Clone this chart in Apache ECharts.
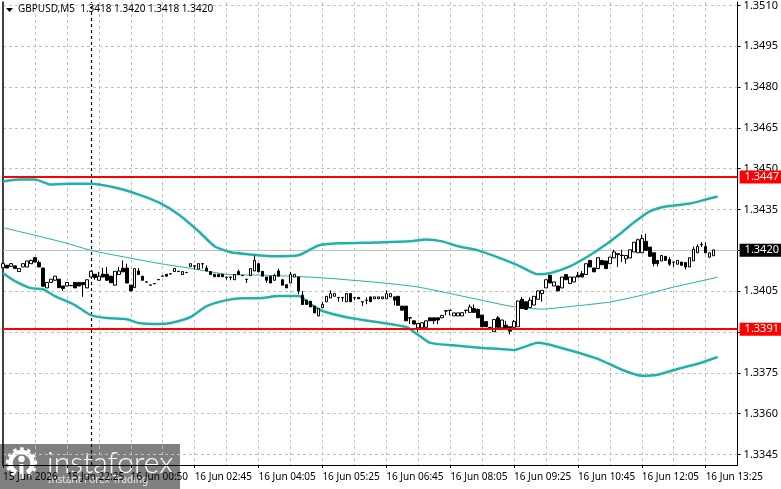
<!DOCTYPE html>
<html>
<head>
<meta charset="utf-8">
<style>html,body{margin:0;padding:0;background:#fff}#chart{width:781px;height:489px}</style>
<script src="https://cdn.jsdelivr.net/npm/echarts@6/dist/echarts.min.js"></script>
</head>
<body>
<div id="chart"></div>
<script>
// GBPUSD M5 candles, one entry per bar
const opens = [1.34136,1.34145,1.34141,1.34143,1.34122,1.34139,1.34139,1.34151,1.34173,1.34155,1.34135,1.34062,1.34082,1.34090,1.34094,1.34069,1.34069,1.34071,1.34082,1.34082,1.34082,1.34062,1.34102,1.34112,1.34090,1.34112,1.34112,1.34105,1.34072,1.34111,1.34134,1.34135,1.34072,1.34063,1.34124,1.34105,1.34084,1.34073,1.34078,1.34092,1.34105,1.34112,1.34113,1.34122,1.34123,1.34111,1.34118,1.34141,1.34143,1.34131,1.34151,1.34135,1.34122,1.34112,1.34112,1.34112,1.34102,1.34102,1.34092,1.34122,1.34108,1.34094,1.34107,1.34124,1.34151,
1.34123,1.34102,1.34105,1.34090,1.34124,1.34092,1.34074,1.34080,1.34102,1.34102,1.34035,1.34017,1.34013,1.33995,1.33959,1.33990,1.34011,1.34025,1.34031,1.34027,1.34027,1.34011,1.34041,1.34026,1.34027,1.34011,1.34017,1.34029,1.34022,1.34022,1.34022,1.34022,1.34029,1.34029,1.34031,1.33995,1.33995,1.33952,1.33941,1.33915,1.33915,1.33917,1.33952,1.33952,1.33952,1.33952,1.33978,1.33980,1.33959,1.33959,1.33959,1.33980,1.33972,1.33986,1.33983,1.33962,1.33938,1.33917,1.33901,1.33952,1.33915,1.33925,1.33919,1.33917,1.33919,
1.34020,1.34011,1.33990,1.33999,1.34020,1.34041,1.34062,1.34108,1.34069,1.34069,1.34062,1.34111,1.34078,1.34084,1.34108,1.34114,1.34111,1.34163,1.34135,1.34133,1.34163,1.34161,1.34151,1.34172,1.34184,1.34182,1.34169,1.34172,1.34194,1.34191,1.34191,1.34233,1.34212,1.34191,1.34163,1.34161,1.34178,1.34166,1.34157,1.34149,1.34157,1.34155,1.34139,1.34161,1.34191,1.34222,1.34214,1.34175,1.34180];
const closes = [1.34151,1.34135,1.34151,1.34133,1.34133,1.34151,1.34161,1.34163,1.34157,1.34139,1.34068,1.34082,1.34094,1.34105,1.34063,1.34060,1.34082,1.34070,1.34062,1.34069,1.34074,1.34092,1.34123,1.34100,1.34105,1.34102,1.34090,1.34081,1.34123,1.34124,1.34121,1.34080,1.34051,1.34133,1.34111,1.34090,1.34083,1.34072,1.34077,1.34093,1.34106,1.34105,1.34114,1.34133,1.34122,1.34122,1.34119,1.34151,1.34142,1.34151,1.34150,1.34124,1.34111,1.34103,1.34103,1.34103,1.34101,1.34101,1.34111,1.34111,1.34107,1.34093,1.34133,1.34163,1.34121,
1.34105,1.34090,1.34080,1.34108,1.34105,1.34072,1.34062,1.34112,1.34112,1.34051,1.34001,1.34001,1.33992,1.33970,1.33986,1.34001,1.34031,1.34041,1.34041,1.34026,1.34026,1.34041,1.34011,1.34025,1.34022,1.34010,1.34016,1.34011,1.34029,1.34029,1.34029,1.34041,1.34041,1.34017,1.33998,1.33980,1.33941,1.33951,1.33929,1.33931,1.33934,1.33941,1.33941,1.33941,1.33944,1.33961,1.33977,1.33979,1.33970,1.33970,1.33971,1.33979,1.33992,1.33972,1.33952,1.33919,1.33919,1.33916,1.33946,1.33917,1.33944,1.33913,1.33903,1.33938,1.34014,
1.33986,1.33983,1.34017,1.34031,1.34051,1.34053,1.34092,1.34080,1.34084,1.34051,1.34102,1.34092,1.34102,1.34102,1.34102,1.34102,1.34151,1.34139,1.34121,1.34173,1.34147,1.34133,1.34175,1.34194,1.34188,1.34181,1.34181,1.34202,1.34230,1.34239,1.34243,1.34200,1.34178,1.34151,1.34151,1.34181,1.34163,1.34149,1.34156,1.34163,1.34145,1.34139,1.34173,1.34204,1.34214,1.34221,1.34191,1.34191,1.34202];
const lows = [1.34136,1.34135,1.34141,1.34133,1.34122,1.34139,1.34139,1.34151,1.34157,1.34139,1.34068,1.34062,1.34082,1.34090,1.34063,1.34051,1.34069,1.34070,1.34062,1.34069,1.34029,1.34062,1.34102,1.34092,1.34090,1.34102,1.34090,1.34081,1.34072,1.34111,1.34121,1.34080,1.34051,1.34063,1.34111,1.34090,1.34083,1.34072,1.34077,1.34092,1.34105,1.34105,1.34113,1.34122,1.34122,1.34111,1.34118,1.34141,1.34129,1.34131,1.34133,1.34124,1.34111,1.34103,1.34103,1.34103,1.34092,1.34090,1.34092,1.34111,1.34107,1.34080,1.34107,1.34124,1.34121,
1.34105,1.34081,1.34080,1.34090,1.34105,1.34072,1.34062,1.34080,1.34102,1.34039,1.34001,1.34001,1.33992,1.33970,1.33959,1.33990,1.34011,1.34025,1.34031,1.34011,1.34011,1.34011,1.34011,1.34017,1.34022,1.33995,1.34002,1.34011,1.34022,1.34022,1.34022,1.34022,1.34029,1.33998,1.33998,1.33980,1.33941,1.33929,1.33929,1.33901,1.33915,1.33917,1.33941,1.33929,1.33929,1.33952,1.33961,1.33961,1.33959,1.33959,1.33959,1.33968,1.33972,1.33972,1.33952,1.33919,1.33919,1.33916,1.33901,1.33917,1.33915,1.33913,1.33891,1.33917,1.33919,
1.33986,1.33983,1.33990,1.33999,1.34020,1.34011,1.34062,1.34080,1.34069,1.34051,1.34062,1.34092,1.34078,1.34084,1.34102,1.34102,1.34111,1.34139,1.34121,1.34133,1.34147,1.34133,1.34151,1.34172,1.34139,1.34157,1.34151,1.34172,1.34194,1.34191,1.34191,1.34200,1.34178,1.34141,1.34141,1.34161,1.34163,1.34143,1.34139,1.34149,1.34145,1.34130,1.34139,1.34161,1.34191,1.34212,1.34191,1.34173,1.34180];
const highs = [1.34155,1.34145,1.34151,1.34143,1.34133,1.34151,1.34161,1.34166,1.34176,1.34163,1.34135,1.34082,1.34094,1.34105,1.34094,1.34069,1.34082,1.34071,1.34082,1.34084,1.34082,1.34092,1.34123,1.34112,1.34121,1.34136,1.34139,1.34105,1.34123,1.34139,1.34163,1.34151,1.34072,1.34133,1.34135,1.34105,1.34084,1.34073,1.34078,1.34093,1.34106,1.34112,1.34114,1.34133,1.34123,1.34122,1.34119,1.34151,1.34143,1.34151,1.34153,1.34145,1.34122,1.34112,1.34112,1.34112,1.34102,1.34102,1.34111,1.34129,1.34108,1.34094,1.34133,1.34181,1.34151,
1.34123,1.34102,1.34105,1.34114,1.34133,1.34092,1.34074,1.34121,1.34112,1.34102,1.34051,1.34017,1.34013,1.33995,1.33986,1.34011,1.34031,1.34053,1.34041,1.34027,1.34027,1.34041,1.34041,1.34026,1.34027,1.34011,1.34027,1.34029,1.34029,1.34029,1.34029,1.34053,1.34041,1.34029,1.34031,1.33995,1.33995,1.33952,1.33941,1.33931,1.33934,1.33941,1.33952,1.33952,1.33952,1.33961,1.33978,1.33980,1.33970,1.33970,1.33971,1.33980,1.34001,1.34001,1.33986,1.33962,1.33938,1.33916,1.33946,1.33959,1.33944,1.33941,1.33919,1.33944,1.34014,
1.34029,1.34011,1.34027,1.34031,1.34051,1.34053,1.34092,1.34108,1.34084,1.34069,1.34102,1.34111,1.34102,1.34102,1.34121,1.34124,1.34151,1.34163,1.34135,1.34173,1.34163,1.34161,1.34175,1.34202,1.34188,1.34202,1.34181,1.34202,1.34230,1.34243,1.34258,1.34261,1.34212,1.34191,1.34163,1.34181,1.34178,1.34175,1.34157,1.34163,1.34157,1.34155,1.34173,1.34214,1.34222,1.34230,1.34230,1.34191,1.34202];

// Bollinger bands, read at [bar index, price] points and joined by the line
const upperBand = [[0,1.34453],[4,1.34460],[8,1.34460],[12,1.34442],[17,1.34445],[22,1.34445],[28,1.34431],[34,1.34405],[39,1.34376],[44,1.34332],[49,1.34270],[53,1.34215],[57,1.34193],[62,1.34185],[68,1.34178],[74,1.34182],[79,1.34218],[84,1.34226],[94,1.34229],[102,1.34233],[106,1.34240],[110,1.34233],[114,1.34215],[119,1.34200],[124,1.34174],[129,1.34145],[134,1.34112],[137,1.34116],[142,1.34141],[147,1.34182],[150,1.34211],[155,1.34266],[158,1.34302],[162,1.34343],[166,1.34361],[172,1.34372],[176,1.34387],[179,1.34398]];
const middleBand = [[0,1.34284],[3,1.34273],[7,1.34259],[16,1.34226],[22,1.34200],[31,1.34174],[39,1.34152],[47,1.34134],[56,1.34112],[64,1.34109],[72,1.34105],[81,1.34098],[96,1.34079],[104,1.34065],[114,1.34035],[122,1.34010],[127,1.33995],[131,1.33988],[135,1.33984],[143,1.33995],[152,1.34010],[160,1.34035],[168,1.34065],[179,1.34101]];
const lowerBand = [[0,1.34116],[3,1.34087],[7,1.34061],[10,1.34057],[13,1.34032],[18,1.33999],[22,1.33962],[26,1.33951],[31,1.33947],[34,1.33933],[39,1.33929],[42,1.33933],[47,1.33955],[51,1.33995],[56,1.34017],[60,1.34024],[64,1.34024],[69,1.34032],[74,1.34032],[77,1.34002],[80,1.33977],[87,1.33951],[92,1.33940],[101,1.33918],[104,1.33889],[107,1.33860],[114,1.33849],[120,1.33841],[124,1.33838],[128,1.33834],[134,1.33860],[139,1.33845],[149,1.33801],[155,1.33761],[160,1.33739],[164,1.33743],[169,1.33764],[174,1.33783],[179,1.33808]];

// Labelled time ticks, keyed by bar index
const timeLabels = {0:'15 Jun 2026',16:'15 Jun 22:25',32:'16 Jun 00:50',48:'16 Jun 02:45',64:'16 Jun 04:05',80:'16 Jun 05:25',96:'16 Jun 06:45',112:'16 Jun 08:05',128:'16 Jun 09:25',144:'16 Jun 10:45',160:'16 Jun 12:05',176:'16 Jun 13:25'};
const priceTicks = [1.3345,1.3360,1.3375,1.3390,1.3405,1.3420,1.3435,1.3450,1.3465,1.3480,1.3495,1.3510];
const resistance = 1.3447, support = 1.3391, lastPrice = 1.3420;
const sessionBar = 22;
const headline = 'GBPUSD,M5  1.3418 1.3420 1.3418 1.3420';
const priceMin = 1.33411, priceMax = 1.35113;

const barSlots = 185;
const categories = Array.from({length: barSlots}, (_, i) => String(i));
const candles = opens.map((o, i) => [o, closes[i], lows[i], highs[i]]);
const FONT = '"Noto Sans"';
const TEAL = '#20b2aa';

const levelLine = (value, bg, color, lw, text) => ({
  yAxis: value,
  lineStyle: {color, width: lw, type: 'solid'},
  label: {show: true, position: 'end', distance: 2, formatter: text,
    color: '#fff', backgroundColor: bg, fontFamily: FONT, fontSize: 11,
    padding: [1, 5, 1, 5], align: 'left'}
});

const chart = echarts.init(document.getElementById('chart'));
chart.setOption({
  animation: false,
  backgroundColor: '#fff',
  grid: {left: 3, right: 41, top: 0, bottom: 24},
  xAxis: {
    type: 'category', data: categories, boundaryGap: false,
    axisLine: {lineStyle: {color: '#000', width: 1}},
    axisTick: {length: 3, lineStyle: {color: '#000'}, interval: (i) => i % 16 === 0},
    axisLabel: {color: '#000', fontFamily: FONT, fontSize: 10, align: 'left', margin: 7,
      interval: (i) => i in timeLabels, formatter: (v, i) => timeLabels[i] || ''},
    splitLine: {show: true, interval: (i) => i % 8 === 0 && i > 0,
      lineStyle: {color: '#c0c0c0', type: [3, 3], width: 1}}
  },
  yAxis: [{
    type: 'value', position: 'right', min: priceMin, max: priceMax,
    axisLine: {show: true, lineStyle: {color: '#000', width: 1}},
    axisTick: {show: true, length: 3, lineStyle: {color: '#000'}, customValues: priceTicks},
    axisLabel: {color: '#000', fontFamily: FONT, fontSize: 11, margin: 6, customValues: priceTicks,
      formatter: (v) => v.toFixed(4)},
    splitLine: {show: true, lineStyle: {color: '#c0c0c0', type: [3, 3], width: 1}}
  }, {
    type: 'value', position: 'left', min: priceMin, max: priceMax,
    axisLine: {show: true, onZero: false, lineStyle: {color: '#000', width: 1.5}},
    axisTick: {show: false}, axisLabel: {show: false}, splitLine: {show: false}
  }],
  series: [
    // last price and session separator sit under the candles
    {type: 'line', name: 'Guides', data: [], z: 1,
      markLine: {silent: true, symbol: 'none', animation: false, precision: 5, z: 1, data: [
        levelLine(lastPrice, '#000', '#c0c0c0', 1, lastPrice.toFixed(4)),
        {xAxis: String(sessionBar), lineStyle: {color: '#000', width: 1.2, type: [3, 3]}, label: {show: false}}
      ]}},
    {type: 'line', name: 'Upper', data: upperBand, showSymbol: false, smooth: 0.2, z: 3,
      lineStyle: {color: TEAL, width: 2.5}},
    {type: 'line', name: 'Middle', data: middleBand, showSymbol: false, smooth: 0.2, z: 3,
      lineStyle: {color: TEAL, width: 1}},
    {type: 'line', name: 'Lower', data: lowerBand, showSymbol: false, smooth: 0.2, z: 3,
      lineStyle: {color: TEAL, width: 2.5}},
    {type: 'candlestick', name: 'GBPUSD', data: candles, barWidth: 3, clip: false, z: 4,
      itemStyle: {color: '#fff', color0: '#000', borderColor: '#000', borderColor0: '#000', borderWidth: 1}},
    {type: 'line', name: 'Levels', data: [], z: 6,
      markLine: {silent: true, symbol: 'none', animation: false, precision: 5, z: 6, data: [
        levelLine(resistance, '#ff0000', '#ff0000', 2, resistance.toFixed(4)),
        levelLine(support, '#ff0000', '#ff0000', 2, support.toFixed(4))
      ]}}
  ],
  graphic: [
    {type: 'polygon', shape: {points: [[6, 8], [13, 8], [9.5, 12]]}, style: {fill: '#000'}, z: 20},
    {type: 'text', left: 18, top: 4, z: 20, style: {text: headline, fill: '#000', font: '10px ' + FONT}},
    // broker badge in the lower left corner
    {type: 'group', left: 0, top: 444, z: 30, silent: true, children: [
      {type: 'rect', shape: {x: 0, y: 0, width: 180, height: 45}, style: {fill: 'rgba(100,100,100,0.82)'}},
      {type: 'arc', shape: {cx: 21.5, cy: 19, r: 11, startAngle: 2.1, endAngle: 1.05}, style: {fill: 'none', stroke: '#fff', lineWidth: 4.5}},
      {type: 'arc', shape: {cx: 21.5, cy: 19, r: 14, startAngle: 2.1, endAngle: 1.05}, style: {fill: 'none', stroke: '#fff', lineWidth: 3.5, lineDash: [3.5, 3.5]}},
      {type: 'circle', shape: {cx: 21.5, cy: 15, r: 3.2}, style: {fill: '#fff'}},
      {type: 'rect', shape: {x: 19.5, y: 20, width: 4, height: 15}, style: {fill: '#fff'}},
      {type: 'text', style: {x: 47, y: 4, text: 'instaforex', fill: '#fff', font: '300 30px Lato'}},
      {type: 'text', style: {x: 48, y: 31, text: 'Instant Forex Trading', fill: '#e8e8e8', font: '10px ' + FONT}}
    ]}
  ]
});
</script>
</body>
</html>
